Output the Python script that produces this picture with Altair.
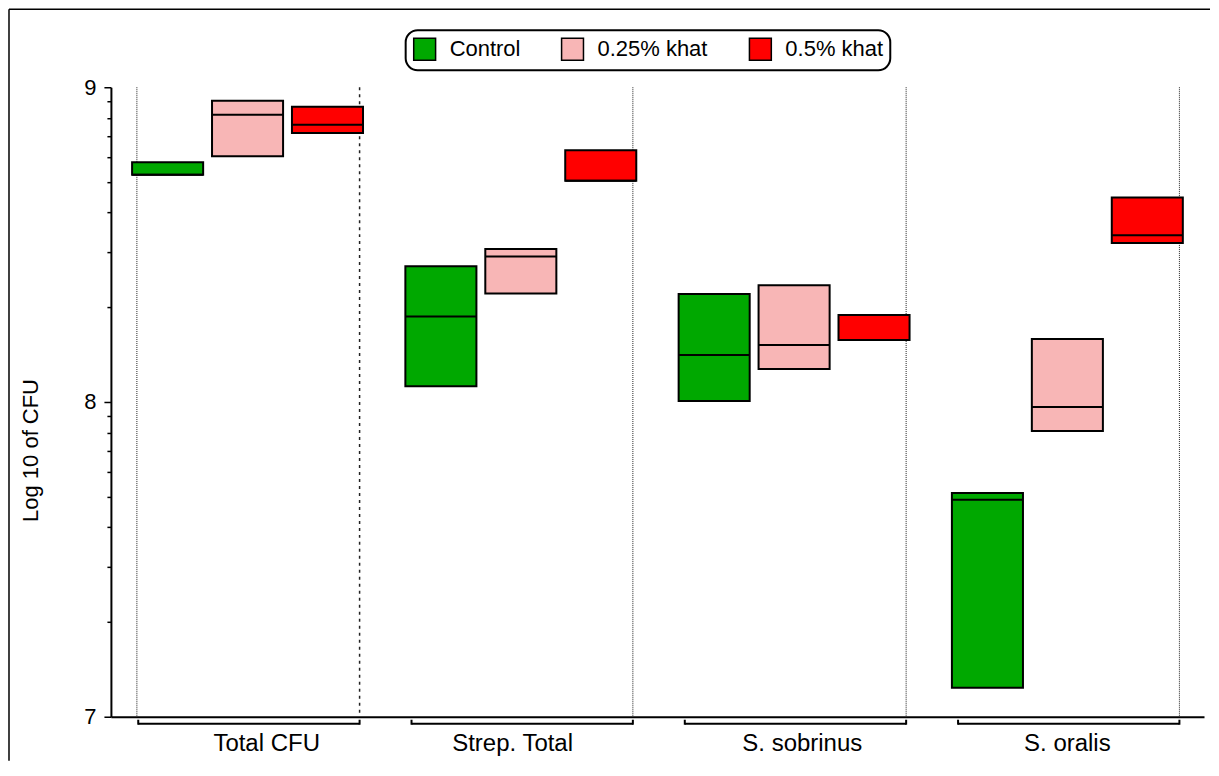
import math
import altair as alt
import pandas as pd

# ---------------- data ----------------
groups = ["Total CFU", "Strep. Total", "S. sobrinus", "S. oralis"]
series = ["Control", "0.25% khat", "0.5% khat"]
colors = ["#00a800", "#f8b6b6", "#ff0000"]

control_low = [8.722, 8.050, 8.003, 7.092]
control_high = [8.762, 8.431, 8.343, 7.711]
control_med = [8.722, 8.272, 8.149, 7.689]

k025_low = [8.781, 8.345, 8.105, 7.908]
k025_high = [8.957, 8.486, 8.371, 8.200]
k025_med = [8.913, 8.462, 8.181, 7.984]

k05_low = [8.855, 8.703, 8.197, 8.505]
k05_high = [8.938, 8.800, 8.276, 8.650]
k05_med = [8.881, 8.703, 8.197, 8.530]

# label centres (in group units)
label_centres = [0.07, 0.97, 2.03, 3.0]

# ---------------- layout helpers ----------------
lows = [control_low, k025_low, k05_low]
highs = [control_high, k025_high, k05_high]
meds = [control_med, k025_med, k05_med]
offsets = [-0.2925, 0.0, 0.2925]
half = 0.13

rows = []
for gi, g in enumerate(groups):
    for si, s in enumerate(series):
        c = gi + offsets[si]
        rows.append(dict(group=g, series=s, bx=c - half, bx2=c + half,
                         low=lows[si][gi], high=highs[si][gi], med=meds[si][gi]))
box_df = pd.DataFrame(rows)

vlines = [dict(vx=-0.405, dash="dot")]
for gi in range(len(groups)):
    vlines.append(dict(vx=gi + 0.41, dash="dash" if gi == 0 else "dot"))
vl_df = pd.DataFrame(vlines)
vl_df["ytop"] = 9.0
vl_df["ybot"] = 7.0

br_df = pd.DataFrame(dict(gl=[gi - 0.4 for gi in range(len(groups))],
                          gr=[gi + 0.41 for gi in range(len(groups))]))
br_ends = pd.DataFrame(dict(ex=list(br_df["gl"]) + list(br_df["gr"])))

lab_df = pd.DataFrame(dict(group=groups, lx=label_centres))

yticks = [7.0] + [7 + math.log10(k) for k in range(2, 10)] + [8.0] + \
         [8 + math.log10(k) for k in range(2, 10)] + [9.0]

NARROW = "Liberation Sans Narrow, Arial Narrow, Liberation Sans, sans-serif"
REG = "Liberation Sans, Arial, sans-serif"

xscale = alt.Scale(domain=[-0.5, 3.5], nice=False, zero=False)
yscale = alt.Scale(domain=[7, 9], nice=False, zero=False)

INT_TEST = "abs(datum.value - round(datum.value)) < 0.001"
xaxis = alt.Axis(title=None, labels=False, ticks=False, grid=False,
                 domainColor="black", domainWidth=2)
yaxis = alt.Axis(title="Log 10 of CFU", values=yticks, format=".0f",
                 labelExpr=INT_TEST + " ? datum.label : ''",
                 labelOverlap=False, grid=False,
                 tickSize={"condition": {"test": INT_TEST, "value": 7}, "value": 4},
                 tickColor="black", tickWidth=1.5,
                 domainColor="black", domainWidth=2,
                 labelFont=NARROW, labelFontSize=22, labelColor="black",
                 labelPadding=8,
                 titleFont=NARROW, titleFontSize=22, titleFontWeight="normal",
                 titleColor="black", titleX=-80, titleY=363,
                 titleAlign="center", titleBaseline="middle", titleAngle=270)

W, H = 1094, 630

# ---------------- layers ----------------
one = alt.Data(values=[{"a": 1}])

frame_top = alt.Chart(one).mark_rule(color="black", strokeWidth=1.5).encode(
    x=alt.value(-102), x2=alt.value(1100), y=alt.value(-78))
frame_left = alt.Chart(one).mark_rule(color="black", strokeWidth=1.5).encode(
    x=alt.value(-102), y=alt.value(-78), y2=alt.value(674))

dotted = alt.Chart(vl_df).transform_filter("datum.dash == 'dot'").mark_rule(
    color="#222222", strokeWidth=1, strokeDash=[1, 1]).encode(
    x=alt.X("vx:Q", scale=xscale, axis=xaxis),
    y=alt.Y("ytop:Q", scale=yscale, axis=yaxis), y2="ybot:Q")
dashed = alt.Chart(vl_df).transform_filter("datum.dash == 'dash'").mark_rule(
    color="#222222", strokeWidth=1.5, strokeDash=[3, 4]).encode(
    x=alt.X("vx:Q", scale=xscale, axis=xaxis),
    y=alt.Y("ytop:Q", scale=yscale, axis=yaxis), y2="ybot:Q")

brackets = alt.Chart(br_df).mark_rule(color="black", strokeWidth=2).encode(
    x=alt.X("gl:Q", scale=xscale, axis=xaxis), x2="gr:Q", y=alt.value(H + 7))
bracket_ends = alt.Chart(br_ends).mark_rule(color="black", strokeWidth=2).encode(
    x=alt.X("ex:Q", scale=xscale, axis=xaxis), y=alt.value(H + 3), y2=alt.value(H + 8))

boxes = alt.Chart(box_df).mark_rect(stroke="black", strokeWidth=2).encode(
    x=alt.X("bx:Q", scale=xscale, axis=xaxis),
    x2="bx2:Q",
    y=alt.Y("low:Q", scale=yscale, axis=yaxis),
    y2="high:Q",
    fill=alt.Fill("series:N", scale=alt.Scale(domain=series, range=colors),
                  sort=series,
                  legend=alt.Legend(title=None, orient="none", legendX=295, legendY=-57,
                                    direction="horizontal")),
)

medians = alt.Chart(box_df).mark_rule(color="black", strokeWidth=2).encode(
    x=alt.X("bx:Q", scale=xscale, axis=xaxis), x2="bx2:Q",
    y=alt.Y("med:Q", scale=yscale, axis=yaxis))

labels = alt.Chart(lab_df).mark_text(font=NARROW, fontSize=24, color="black",
                                      baseline="middle", align="center").encode(
    x=alt.X("lx:Q", scale=xscale, axis=xaxis), y=alt.value(H + 27), text="group:N")

chart = alt.layer(frame_top, frame_left, dotted, dashed, brackets, bracket_ends,
                  boxes, medians, labels).properties(
    width=W, height=H, padding=0
).configure_view(stroke="transparent").configure_legend(
    symbolType="square", symbolSize=480, symbolStrokeColor="black", symbolStrokeWidth=1.5,
    labelFont=REG, labelFontSize=22, labelColor="black", labelOffset=13,
    columnPadding=38, strokeColor="black", strokeWidth=2, cornerRadius=12,
    padding=7, fillColor="white"
)

chart.save("out.html", embed_options={"renderer": "svg", "actions": False})
